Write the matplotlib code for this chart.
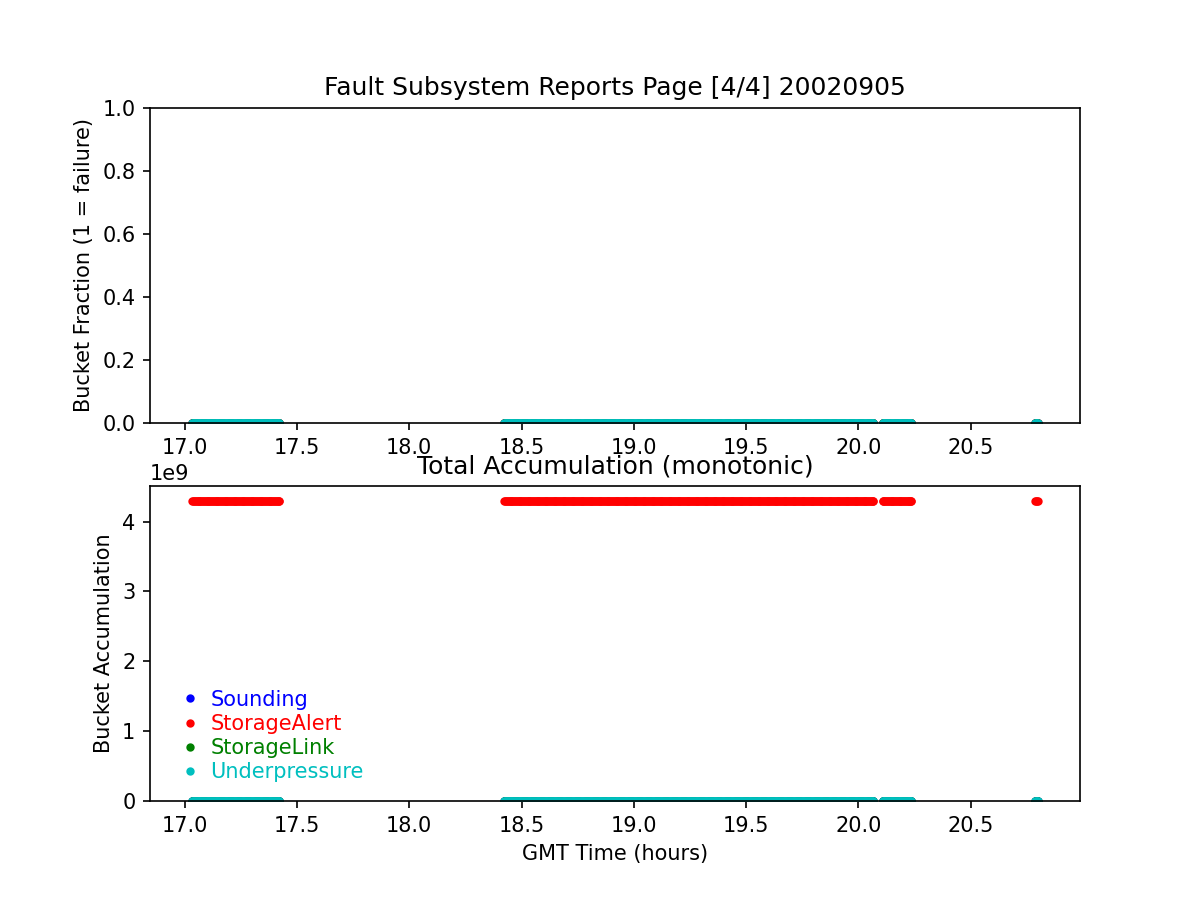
import numpy as np
import matplotlib
matplotlib.use("Agg")
import matplotlib.pyplot as plt

# Data segments (GMT hours) where reports exist
seg_starts = [17.034, 18.423, 20.107, 20.786]
seg_ends = [17.421, 20.063, 20.236, 20.798]
sample_step = 0.004  # sampling cadence within a segment (hours)

series_names = ["Sounding", "StorageAlert", "StorageLink", "Underpressure"]
series_colors = ["b", "r", "g", "c"]
fraction_values = [0.0, 0.0, 0.0, 0.0]
accum_values = [0.0, 4294967295.0, 0.0, 0.0]

times = np.concatenate([np.append(np.arange(s, e, sample_step), e)
                        for s, e in zip(seg_starts, seg_ends)])

fig, (ax1, ax2) = plt.subplots(2, 1, figsize=(8, 6), dpi=150)

for name, col, fv in zip(series_names, series_colors, fraction_values):
    ax1.plot(times, np.full_like(times, fv), '.', color=col, label=name)
ax1.set_ylim(0, 1)
ax1.set_ylabel("Bucket Fraction (1 = failure)")
ax1.set_title("Fault Subsystem Reports Page [4/4] 20020905")

for name, col, av in zip(series_names, series_colors, accum_values):
    ax2.plot(times, np.full_like(times, av), '.', color=col, label=name)
ax2.set_ylim(bottom=0)
ax2.set_ylabel("Bucket Accumulation")
ax2.set_xlabel("GMT Time (hours)")
ax2.set_title("Total Accumulation (monotonic)")
leg = ax2.legend(loc="lower left", frameon=False, numpoints=1,
                 handletextpad=0.0, labelspacing=0.2)
for txt, col in zip(leg.get_texts(), series_colors):
    txt.set_color(col)

fig.savefig("out.png", dpi=150)
